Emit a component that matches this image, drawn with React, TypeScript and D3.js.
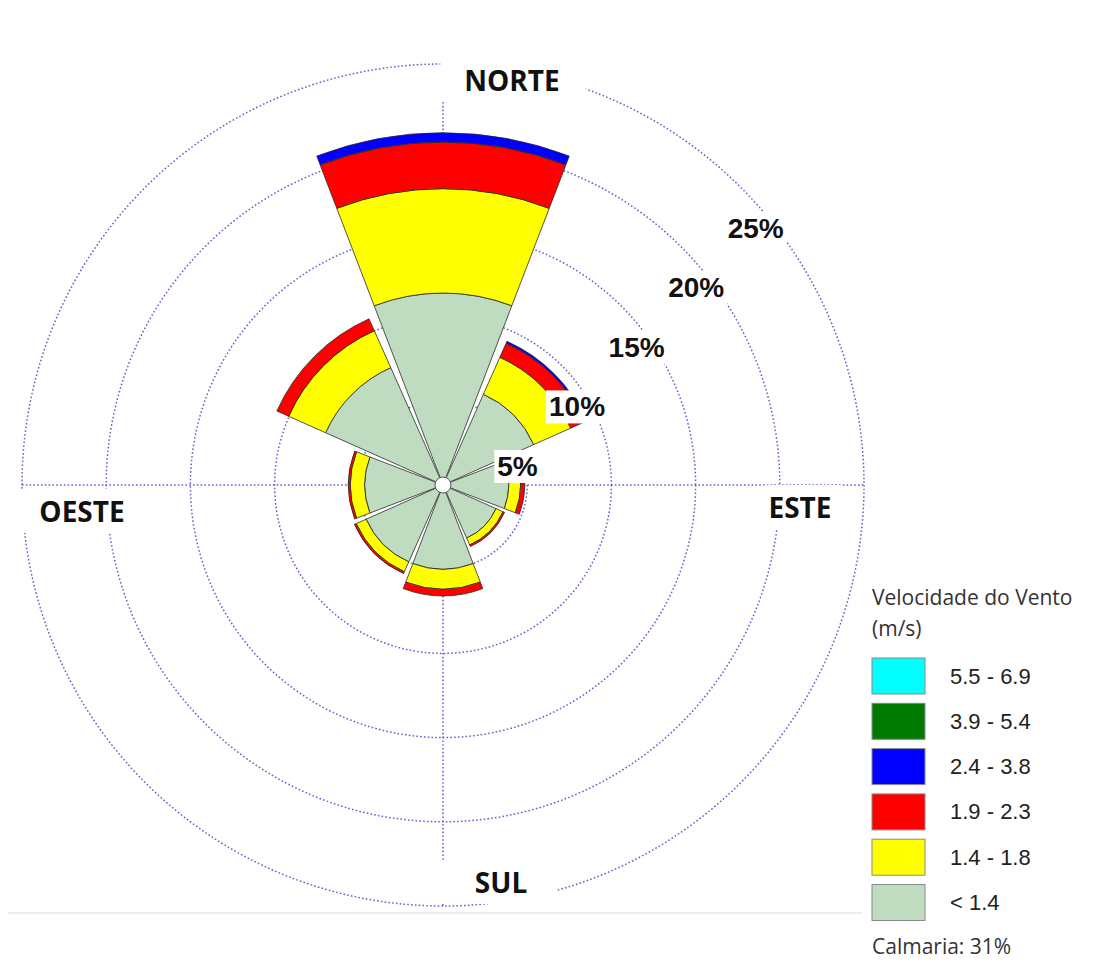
import { useRef, useEffect } from 'react'
import * as d3 from 'd3'

// direction sectors, clockwise from north
const directions = ['N', 'NE', 'E', 'SE', 'S', 'SW', 'W', 'NW']

// frequency (%) per speed class, per direction
const speedLt14 = [11.4, 5.9, 3.9, 3.45, 5.0, 5.0, 4.65, 7.63]
const speed14to18 = [6.2, 2.4, 0.7, 0.45, 1.18, 0.64, 0.85, 2.4]
const speed19to23 = [2.77, 0.92, 0.25, 0.1, 0.41, 0.12, 0.12, 0.77]
const speed24to38 = [0.55, 0.12, 0, 0, 0, 0, 0, 0]
const speed39to54 = [0, 0, 0, 0, 0, 0, 0, 0]
const speed55to69 = [0, 0, 0, 0, 0, 0, 0, 0]

const speedLabels = ['< 1.4', '1.4 - 1.8', '1.9 - 2.3', '2.4 - 3.8', '3.9 - 5.4', '5.5 - 6.9']
const speedColors = ['#bfdcc0', '#ffff00', '#ff0000', '#0000ff', '#007a00', '#00ffff']

const ringTicks = [5, 10, 15, 20, 25]
const compassLabels = ['NORTE', 'ESTE', 'SUL', 'OESTE']
const calmPct = 31

function WindRose() {
  const svgRef = useRef<SVGSVGElement>(null)

  useEffect(() => {
    if (!svgRef.current) return
    const svg = d3.select(svgRef.current)
    svg.selectAll('*').remove()

    const cx = 443
    const cy = 485
    const r = d3.scaleLinear().domain([0, 25]).range([0, 421])
    const angle = d3.scaleLinear().domain([0, directions.length]).range([0, 2 * Math.PI])
    const halfWidth = (21 * Math.PI) / 180

    const gridColor = '#6262cc'
    const dash = '1.6,2.2'
    const g = svg.append('g').attr('transform', `translate(${cx},${cy})`)

    // faint baseline under the plot
    svg.append('line')
      .attr('x1', 8).attr('x2', 862)
      .attr('y1', 913).attr('y2', 913)
      .attr('stroke', '#ededed').attr('stroke-width', 2)

    // rings
    g.selectAll('.ring')
      .data(ringTicks)
      .join('circle')
      .attr('r', (d) => r(d))
      .attr('fill', 'none')
      .attr('stroke', gridColor)
      .attr('stroke-width', 1.5)
      .attr('stroke-dasharray', dash)

    // N-S and E-W axes
    const R = r(25)
    g.append('line').attr('x1', 0).attr('x2', 0).attr('y1', -R).attr('y2', R)
      .attr('stroke', gridColor).attr('stroke-width', 1.5).attr('stroke-dasharray', dash)
    g.append('line').attr('x1', -R).attr('x2', R).attr('y1', 0).attr('y2', 0)
      .attr('stroke', gridColor).attr('stroke-width', 1.5).attr('stroke-dasharray', dash)

    // stacked wedges
    const keys = ['s0', 's1', 's2', 's3', 's4', 's5']
    const series = [speedLt14, speed14to18, speed19to23, speed24to38, speed39to54, speed55to69]
    const rows = directions.map((dir, i) => {
      const row: Record<string, number | string> = { dir }
      keys.forEach((k, j) => { row[k] = series[j][i] })
      return row
    })
    const stacked = d3.stack<Record<string, number | string>>().keys(keys)(rows)

    const arc = d3.arc<any>()
    stacked.forEach((layer, j) => {
      g.selectAll(`.layer-${j}`)
        .data(layer.map((p, i) => ({ p, i })).filter((d) => d.p[1] - d.p[0] > 0))
        .join('path')
        .attr('d', (d) => arc({
          innerRadius: r(d.p[0]),
          outerRadius: r(d.p[1]),
          startAngle: angle(d.i) - halfWidth,
          endAngle: angle(d.i) + halfWidth,
        }))
        .attr('fill', speedColors[j])
        .attr('stroke', '#2a2a2a')
        .attr('stroke-width', 0.8)
        .attr('stroke-linejoin', 'round')
    })

    // center hole
    g.append('circle').attr('r', 8).attr('fill', '#fff').attr('stroke', '#555').attr('stroke-width', 1)

    // helper: text with white box behind it
    const boxedText = (
      x: number, y: number, txt: string, font: string, size: number, weight: string,
      padL: number, padR: number, padY: number,
    ) => {
      const grp = svg.append('g')
      const rect = grp.append('rect').attr('fill', '#fff')
      const t = grp.append('text')
        .attr('x', x).attr('y', y)
        .attr('text-anchor', 'middle')
        .attr('dominant-baseline', 'central')
        .attr('font-family', font)
        .attr('font-size', size)
        .attr('font-weight', weight)
        .attr('fill', '#111')
        .text(txt)
      const bb = (t.node() as SVGTextElement).getBBox()
      rect.attr('x', bb.x - padL).attr('y', bb.y - padY)
        .attr('width', bb.width + padL + padR).attr('height', bb.height + 2 * padY)
    }

    // ring percentage labels along the NE diagonal
    const diag = Math.SQRT1_2
    ringTicks.forEach((v) => {
      boxedText(cx + r(v) * diag + 15, cy - r(v) * diag + 41, `${v}%`,
        '"Liberation Sans", Arial, sans-serif', 28, 'bold', 3, 3, 1)
    })

    // compass labels
    const compassPos: [number, number][] = [
      [cx + 69, cy - R + 16],
      [cx + R - 64, cy + 22],
      [cx + 58, cy + R - 24],
      [cx - R + 60, cy + 26],
    ]
    const compassPad: [number, number][] = [[24, 26], [4, 10], [36, 30], [20, 8]]
    compassLabels.forEach((lab, i) => {
      boxedText(compassPos[i][0], compassPos[i][1], lab, '"Open Sans", sans-serif', 28, 'bold',
        compassPad[i][0], compassPad[i][1], 3)
    })

    // legend
    const lx = 872
    const leg = svg.append('g').attr('font-family', '"Open Sans", sans-serif').attr('fill', '#333')
    leg.append('text').attr('x', lx).attr('y', 605).attr('font-size', 21).attr('fill', '#333').text('Velocidade do Vento')
    leg.append('text').attr('x', lx).attr('y', 636).attr('font-size', 21).attr('fill', '#333').text('(m/s)')

    const legendOrder = d3.range(speedLabels.length).reverse()
    const ly = d3.scaleLinear().domain([0, 1]).range([658, 703.3])
    legendOrder.forEach((k, i) => {
      leg.append('rect')
        .attr('x', lx).attr('y', ly(i))
        .attr('width', 53).attr('height', 36)
        .attr('fill', speedColors[k])
        .attr('stroke', '#8a8a8a').attr('stroke-width', 1)
      leg.append('text')
        .attr('x', 950).attr('y', ly(i) + 18)
        .attr('dominant-baseline', 'central')
        .attr('font-family', '"Liberation Sans", Arial, sans-serif')
        .attr('font-size', 22)
        .attr('fill', '#222')
        .text(speedLabels[k])
    })
    leg.append('text').attr('x', lx).attr('y', 954).attr('font-size', 21).attr('fill', '#333').text(`Calmaria: ${calmPct}%`)
  }, [])

  return (
    <svg
      ref={svgRef}
      width={1113}
      height={977}
      style={{ position: 'absolute', left: 0, top: 0, background: '#fff' }}
    />
  )
}

export default function App() {
  return <WindRose />
}
